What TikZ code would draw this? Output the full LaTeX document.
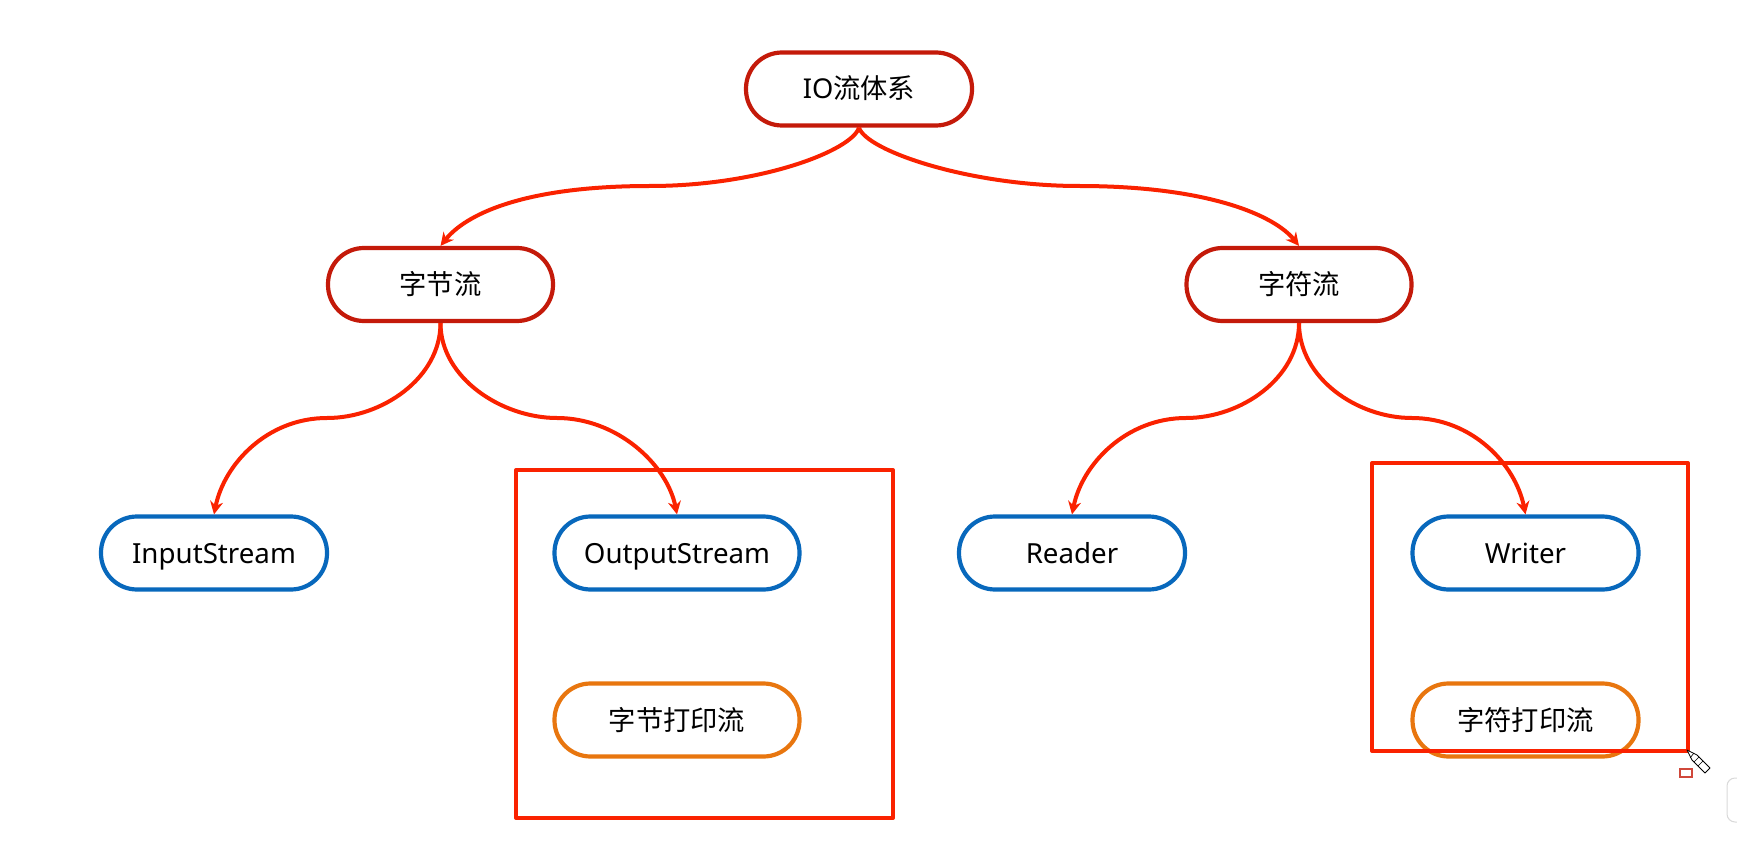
\documentclass[tikz,border=0pt]{standalone}
\usepackage{fontspec}
\setmainfont{Noto Sans CJK SC}
\newfontfamily\latinfont{Noto Sans}
\usetikzlibrary{arrows.meta}
\definecolor{darkred}{HTML}{C41A0A}
\definecolor{linkred}{HTML}{FA2200}
\definecolor{pillblue}{HTML}{0868BC}
\definecolor{pillorange}{HTML}{E8760F}
\tikzset{
  pill/.style={draw=#1,line width=4.2pt,fill=white,rounded corners=36pt,minimum height=73pt,text=black,inner sep=0pt,text height=24pt,text depth=4pt,font=\fontsize{27.3pt}{30pt}\selectfont},
  latin/.style={font=\fontsize{27.7pt}{30pt}\selectfont\latinfont},
  link/.style={draw=linkred,line width=4pt,-{Stealth[length=13pt,width=13pt]}},
  box/.style={draw=linkred,line width=4pt,line join=round}
}
\begin{document}
\begin{tikzpicture}[x=1pt,y=-1pt]
\useasboundingbox (0,0) rectangle (1737,842);
\node[pill=darkred,minimum width=226pt] (io) at (859,89) {{\latinfont IO}流体系};
\node[pill=darkred,minimum width=225pt] (bytes) at (440.5,284.5) {字节流};
\node[pill=darkred,minimum width=225pt] (chars) at (1299,284.5) {字符流};
\node[pill=pillblue,latin,minimum width=226pt] (input) at (214,553) {InputStream};
\node[pill=pillblue,latin,minimum width=245pt] (output) at (677,553) {OutputStream};
\node[pill=pillblue,latin,minimum width=226pt] (reader) at (1072,553) {Reader};
\node[pill=pillblue,latin,minimum width=226pt] (writer) at (1525.5,553) {Writer};
\node[pill=pillorange,minimum width=245pt] (bprint) at (677,720) {字节打印流};
\node[pill=pillorange,minimum width=226pt] (cprint) at (1525.5,720) {字符打印流};
\draw[box] (516,470) rectangle (893,818);
\draw[box] (1372,463) rectangle (1688,751);
\coordinate (m1) at (650,186);
\coordinate (m2) at (1079,186);
\coordinate (m3) at (327,418);
\coordinate (m4) at (557,418);
\coordinate (m5) at (1186,418);
\coordinate (m6) at (1412,418);
\draw[link] (io.south) .. controls +(-7,23) and +(110,0) .. (m1) .. controls +(-130,0) and +(24,-30) .. (bytes.north);
\draw[link] (io.south) .. controls +(7,23) and +(-110,0) .. (m2) .. controls +(130,0) and +(-24,-30) .. (chars.north);
\draw[link] (bytes.south) .. controls +(0,55) and +(55,0) .. (m3) .. controls +(-60,0) and +(10,-50) .. (input.north);
\draw[link] (bytes.south) .. controls +(0,55) and +(-55,0) .. (m4) .. controls +(60,0) and +(-10,-50) .. (output.north);
\draw[link] (chars.south) .. controls +(0,55) and +(55,0) .. (m5) .. controls +(-60,0) and +(10,-50) .. (reader.north);
\draw[link] (chars.south) .. controls +(0,55) and +(-55,0) .. (m6) .. controls +(60,0) and +(-10,-50) .. (writer.north);
% pencil cursor
\draw[black,fill=white,line width=.8pt,line join=round] (1687,750) -- (1697,755) -- (1710,768) -- (1705,773) -- (1692,760) -- cycle;
\draw[black,line width=.6pt] (1694,753) -- (1690,758) (1699,757) -- (1694,762) (1703,761) -- (1698,766);
% small marker
\draw[draw=darkred!80,fill=white,line width=1.2pt] (1680,769) rectangle (1692,777);
% corner of the window panel
\draw[draw=black!15,fill=white,line width=1pt,rounded corners=8pt] (1750,778) -- (1727,778) -- (1727,822) -- (1750,822);
\end{tikzpicture}
\end{document}
